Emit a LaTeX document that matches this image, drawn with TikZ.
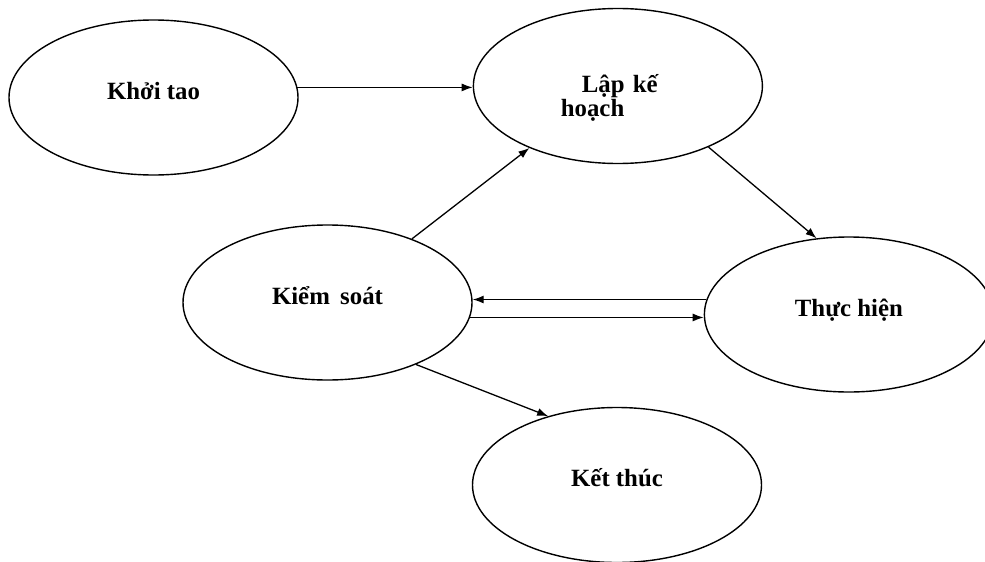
\documentclass[tikz,border=0pt]{standalone}
\usepackage{fontspec}
\setmainfont{Liberation Serif}
\usetikzlibrary{arrows.meta,positioning,shapes.geometric}

\begin{document}
\begin{tikzpicture}[x=0.5pt,y=-0.5pt,>={Latex[length=5.5pt,width=4pt]},
 font=\fontsize{12.4}{13}\selectfont\bfseries,
 stage/.style={draw,ellipse,line width=0.7pt,minimum width=144.5pt,minimum height=77.5pt,inner sep=0pt,text height=6.2pt,text depth=4.7pt},
 link/.style={->,line width=0.65pt}]
\useasboundingbox (0,0) rectangle (985,562);
\node[stage] (init) at (153.5,97.5) {Khởi tao};
\node[stage,right=87pt of init,yshift=5.75pt,text width=57pt,align=left,text height=11pt] (plan) {\hspace*{10.5pt}Lập kế\\[-1pt]hoạch};
\node[stage] (control) at (327.5,302.5) {Kiểm\, soát};
\node[stage,right=115.5pt of control,yshift=-6pt] (exec) {Thực hiện};
\node[stage] (finish) at (617,485) {Kết thúc};
\draw[link] (init.4) -- (init.4 -| plan.west);
\draw[link] (control.37) -- (plan.215);
\draw[link] (plan.326) -- (exec.113);
\draw[link] (exec.174) -- (exec.174 -| control.east);
\draw[link] (control.354) -- (control.354 -| exec.west);
\draw[link] (control.325) -- (finish.135);
\end{tikzpicture}
\end{document}
